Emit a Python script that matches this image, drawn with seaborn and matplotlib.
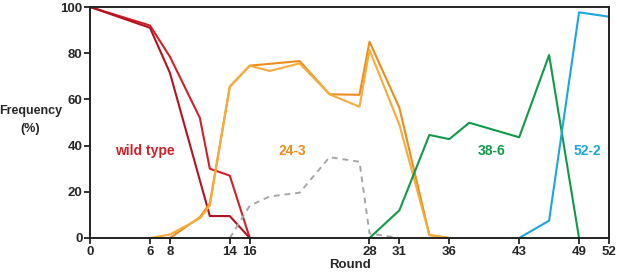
import numpy as np
import matplotlib
matplotlib.use("Agg")
import matplotlib.pyplot as plt
import seaborn as sns
import pandas as pd

# rounds / frequencies
wt_a_x = [0, 6, 8, 11, 12, 14, 16]
wt_a_y = [100, 92, 78.5, 52, 30, 27, 0]
wt_b_x = [0, 6, 8, 12, 14, 16]
wt_b_y = [100, 91, 71.5, 9.5, 9.5, 0]

c243_a_x = [6, 8, 11, 12, 14, 16, 21, 24, 27, 28, 31, 34, 36]
c243_a_y = [0, 0, 9, 15, 65.5, 74.6, 76.6, 62.2, 62, 85, 56.3, 1.3, 0]
c243_b_x = [6, 8, 11, 12, 14, 16, 18, 21, 24, 27, 28, 31, 34, 36]
c243_b_y = [0, 1.5, 8.5, 14, 65.5, 74.6, 72.3, 75.6, 62.2, 56.8, 81.4, 49, 1.3, 0]

gray_x = [14, 16, 18, 21, 24, 27, 28, 31]
gray_y = [0, 14, 18, 19.6, 35, 33, 2, 0]

c386_x = [28, 31, 34, 36, 38, 43, 46, 49]
c386_y = [0, 12, 44.6, 42.8, 49.9, 43.6, 79.2, 0]

c522_x = [43, 46, 49, 52]
c522_y = [0, 7.5, 97.7, 95.8]

xticks = [0, 6, 8, 14, 16, 28, 31, 36, 43, 49, 52]
yticks = [0, 20, 40, 60, 80, 100]

sns.set_style("ticks")
plt.rcParams['font.family'] = ['Liberation Sans', 'DejaVu Sans']

fig, ax = plt.subplots(figsize=(6.17, 2.8), dpi=100)
fig.subplots_adjust(left=0.146, right=0.987, top=0.975, bottom=0.15)

red1 = '#d0202a'
red2 = '#b3121f'
or1 = '#ec8c1c'
or2 = '#f6ab3a'
green = '#109a48'
blue = '#1aa6de'

kw = dict(linewidth=1.5, ax=ax, clip_on=False)
sns.lineplot(x=wt_a_x, y=wt_a_y, color=red1, **kw)
sns.lineplot(x=wt_b_x, y=wt_b_y, color=red2, **kw)
sns.lineplot(x=c243_a_x, y=c243_a_y, color=or1, **kw)
sns.lineplot(x=c243_b_x, y=c243_b_y, color=or2, **kw)
sns.lineplot(x=gray_x, y=gray_y, color='#a6a6a6', linestyle=(0, (3, 2.5)), linewidth=1.4, ax=ax)
sns.lineplot(x=c386_x, y=c386_y, color=green, **kw)
sns.lineplot(x=c522_x, y=c522_y, color=blue, **kw)

ax.set_xlim(0, 52)
ax.set_ylim(0, 100)
ax.set_xticks(xticks)
ax.set_yticks(yticks)
ax.tick_params(axis='both', labelsize=9.5, width=1.3, length=4, pad=1.5, color='#222222')
for lab in ax.get_xticklabels() + ax.get_yticklabels():
    lab.set_fontweight('bold')
for s in ax.spines.values():
    s.set_linewidth(1.4)
    s.set_color('#222222')

ax.set_xlabel('Round', fontsize=9.5, fontweight='bold', labelpad=1)
ax.set_ylabel('Frequency\n(%)', fontsize=9, fontweight='bold', rotation=0,
              ha='center', va='center', linespacing=1.7)
ax.yaxis.set_label_coords(-0.115, 0.51)

tkw = dict(fontsize=10, fontweight='bold', ha='center', va='center')
ax.text(5.5, 37.5, 'wild type', color=red1, **tkw)
ax.text(20.3, 37.5, '24-3', color=or1, **tkw)
ax.text(40.2, 37.7, '38-6', color=green, **tkw)
ax.text(49.8, 37.7, '52-2', color=blue, **tkw)

fig.savefig('out.png', dpi=100)
